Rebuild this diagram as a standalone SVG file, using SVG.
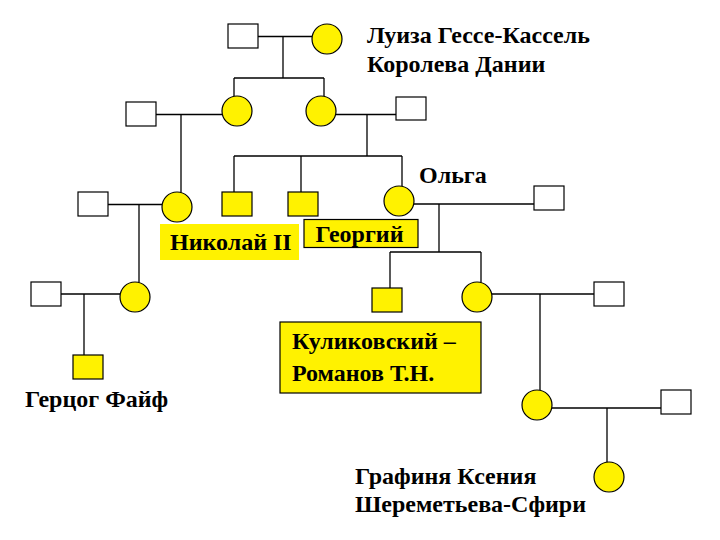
<svg xmlns="http://www.w3.org/2000/svg" width="720" height="540" viewBox="0 0 720 540">
<style>
.m{fill:#ffffff;stroke:#000;stroke-width:1.2}
.my{fill:#fff200;stroke:#000;stroke-width:1.2}
.f{fill:#fff200;stroke:#000;stroke-width:1.2}
.c line{stroke:#000;stroke-width:1.3}
.lb{fill:#fff200;stroke:#000;stroke-width:1.2}
</style>
<rect width="720" height="540" fill="#fff"/>
<g id="connectors" class="c">
<line x1="258" y1="36.5" x2="312" y2="36.5"/>
<line x1="283" y1="36.5" x2="283" y2="78"/>
<line x1="234" y1="78" x2="324" y2="78"/>
<line x1="234" y1="78" x2="234" y2="96.5"/>
<line x1="324" y1="78" x2="324" y2="96.5"/>
<line x1="156" y1="114.5" x2="222" y2="114.5"/>
<line x1="181" y1="114.5" x2="181" y2="192.5"/>
<line x1="336" y1="114.5" x2="396" y2="114.5"/>
<line x1="367" y1="114.5" x2="367" y2="156"/>
<line x1="234" y1="156" x2="402" y2="156"/>
<line x1="234" y1="156" x2="234" y2="192"/>
<line x1="301" y1="156" x2="301" y2="192"/>
<line x1="402" y1="156" x2="402" y2="186.5"/>
<line x1="108" y1="204.5" x2="162" y2="204.5"/>
<line x1="139" y1="204.5" x2="139" y2="282.5"/>
<line x1="414" y1="204" x2="534" y2="204"/>
<line x1="439" y1="204" x2="439" y2="252"/>
<line x1="390" y1="252" x2="481" y2="252"/>
<line x1="390" y1="252" x2="390" y2="288"/>
<line x1="481" y1="252" x2="481" y2="282.5"/>
<line x1="61" y1="294" x2="120" y2="294"/>
<line x1="84" y1="294" x2="84" y2="355"/>
<line x1="492" y1="294" x2="594" y2="294"/>
<line x1="540" y1="294" x2="540" y2="390.5"/>
<line x1="552" y1="408" x2="661" y2="408"/>
<line x1="607" y1="408" x2="607" y2="462.5"/>
</g>
<g id="n1"><rect class="m" x="228" y="24" width="30" height="24"/></g>
<g id="n2"><circle class="f" cx="327" cy="39" r="15"/></g>
<g id="n3"><circle class="f" cx="237" cy="111" r="15"/></g>
<g id="n4"><circle class="f" cx="321" cy="111" r="15"/></g>
<g id="n5"><rect class="m" x="126" y="102" width="30" height="24"/></g>
<g id="n6"><rect class="m" x="396" y="97" width="30" height="23"/></g>
<g id="n7"><rect class="m" x="78" y="192" width="30" height="24"/></g>
<g id="n8"><circle class="f" cx="177" cy="207" r="15"/></g>
<g id="n9"><rect class="my" x="222" y="192" width="30" height="24"/></g>
<g id="n10"><rect class="my" x="288" y="192" width="30" height="24"/></g>
<g id="n11"><circle class="f" cx="399" cy="201" r="15"/></g>
<g id="n12"><rect class="m" x="534" y="186" width="30" height="24"/></g>
<g id="n13"><rect class="my" x="372" y="288" width="30" height="24"/></g>
<g id="n14"><circle class="f" cx="477" cy="297" r="15"/></g>
<g id="n15"><rect class="m" x="594" y="282" width="30" height="24"/></g>
<g id="n16"><rect class="m" x="31" y="282" width="30" height="24"/></g>
<g id="n17"><circle class="f" cx="135" cy="297" r="15"/></g>
<g id="n18"><rect class="my" x="73" y="355" width="30" height="24"/></g>
<g id="n19"><circle class="f" cx="537" cy="405" r="15"/></g>
<g id="n20"><rect class="m" x="661" y="390" width="30" height="24"/></g>
<g id="n21"><circle class="f" cx="609" cy="477" r="15"/></g>
<g id="label-luiza"><text x="367" y="43" font-family="Liberation Serif" font-weight="bold" font-size="24">Луиза Гессе-Кассель</text><text x="367" y="71.5" font-family="Liberation Serif" font-weight="bold" font-size="24">Королева Дании</text></g>
<g id="label-olga"><text x="419" y="182.5" font-family="Liberation Serif" font-weight="bold" font-size="24">Ольга</text></g>
<g id="label-nikolai"><rect x="160" y="224" width="139" height="36" fill="#fff200"/><text x="170" y="250" font-family="Liberation Serif" font-weight="bold" font-size="24">Николай II</text></g>
<g id="label-georgiy"><rect class="lb" x="304" y="219.5" width="114" height="28"/><text x="315.5" y="241.5" font-family="Liberation Serif" font-weight="bold" font-size="24">Георгий</text></g>
<g id="label-kulikovsky"><rect class="lb" x="280" y="322" width="201" height="71"/><text x="292" y="349" font-family="Liberation Serif" font-weight="bold" font-size="24">Куликовский –</text><text x="292" y="380.5" font-family="Liberation Serif" font-weight="bold" font-size="24">Романов Т.Н.</text></g>
<g id="label-fife"><text x="25" y="407" font-family="Liberation Serif" font-weight="bold" font-size="24">Герцог Файф</text></g>
<g id="label-xenia"><text x="355" y="484" font-family="Liberation Serif" font-weight="bold" font-size="24">Графиня Ксения</text><text x="355" y="511.5" font-family="Liberation Serif" font-weight="bold" font-size="24">Шереметьева-Сфири</text></g>
</svg>
